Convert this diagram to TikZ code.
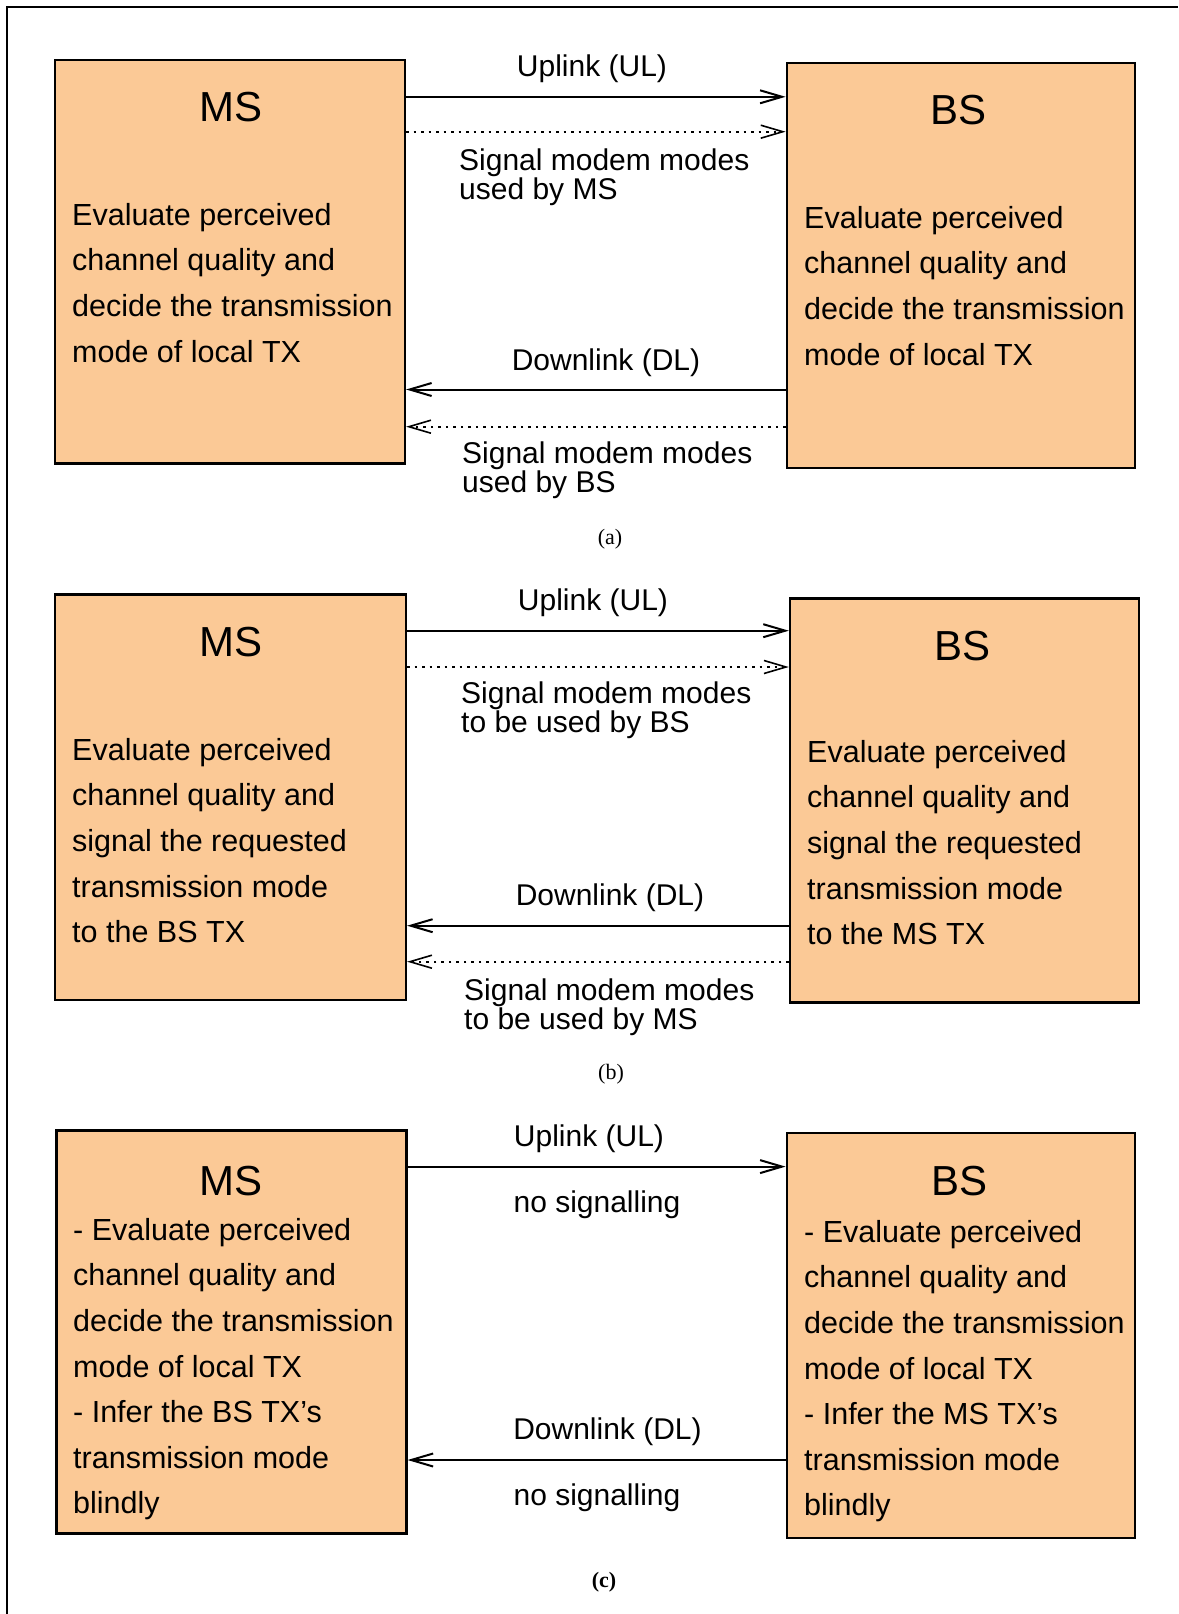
\documentclass[tikz,border=0pt]{standalone}
\usepackage{fontspec}
\setmainfont{Liberation Sans}
\newfontfamily\capfont{Liberation Serif}
\usetikzlibrary{arrows.meta}
\definecolor{peach}{RGB}{251,201,150}
\begin{document}
\begin{tikzpicture}[x=1pt,y=-1pt,
  box/.style={draw=black, line width=2.6pt, fill=peach, anchor=north west, inner sep=0pt},
  ttl/.style={font=\fontsize{42}{46}\selectfont, inner sep=0pt},
  body/.style={font=\fontsize{30.5}{45.6}\selectfont, align=left, anchor=north west, inner sep=0pt},
  lbl/.style={font=\fontsize{30}{34}\selectfont, inner sep=0pt},
  sig/.style={font=\fontsize{30}{27.5}\selectfont, align=left, anchor=west, inner sep=0pt},
  captxt/.style={font=\capfont\fontsize{22}{25}\selectfont, inner sep=0pt},
  link/.style={line width=2pt, -{Straight Barb[length=22pt,width=13pt,line width=2pt]}},
  siglink/.style={line width=1.6pt, dash pattern=on 2.5pt off 5pt,
    -{Straight Barb[length=22pt,width=13pt,line width=1.6pt]}}]
\useasboundingbox (0,0) rectangle (1178,1614);

% outer frame (top and left edges)
\draw[line width=2.4pt] (7,1614) -- (7,7) -- (1178,7);

% ---------------- (a) ----------------
\node[box, minimum width=350pt, minimum height=403.6pt] (msa) at (53.5,58.7) {};
\node[box, minimum width=348pt, minimum height=404.7pt] (bsa) at (785.6,61.8) {};
\node[ttl] (msa-t) at (230.6,107) {MS};
\node[ttl] (bsa-t) at (958.6,110) {BS};
\node[body] (msa-b) at (72,203) {Evaluate perceived\\channel quality and\\decide the transmission\\mode of local TX};
\node[body] (bsa-b) at (804,206) {Evaluate perceived\\channel quality and\\decide the transmission\\mode of local TX};

\coordinate (ula) at (0,96.8);
\coordinate (sula) at (0,131.7);
\coordinate (dla) at (0,389.5);
\coordinate (sdla) at (0,426.7);
\draw[link] (msa.east |- ula) -- (bsa.west |- ula);
\draw[siglink] (msa.east |- sula) -- (bsa.west |- sula);
\draw[link] (bsa.west |- dla) -- (msa.east |- dla);
\draw[siglink] (bsa.west |- sdla) -- (msa.east |- sdla);
\node[lbl] (ula-l) at (592,69) {Uplink (UL)};
\node[sig] (sula-l) at (459,177) {Signal modem modes\\used by MS};
\node[lbl] (dla-l) at (606,363) {Downlink (DL)};
\node[sig] (sdla-l) at (462,470.5) {Signal modem modes\\used by BS};
\node[captxt] (capa) at (610,539) {(a)};

% ---------------- (b) ----------------
\node[box, minimum width=351pt, minimum height=405.8pt] (msb) at (53.5,593) {};
\node[box, minimum width=349pt, minimum height=403.7pt] (bsb) at (788.8,597.2) {};
\node[ttl] (msb-t) at (230.6,642.5) {MS};
\node[ttl] (bsb-t) at (962.8,645.6) {BS};
\node[body] (msb-b) at (72,738) {Evaluate perceived\\channel quality and\\signal the requested\\transmission mode\\to the BS TX};
\node[body] (bsb-b) at (807,740) {Evaluate perceived\\channel quality and\\signal the requested\\transmission mode\\to the MS TX};

\coordinate (ulb) at (0,630.7);
\coordinate (sulb) at (0,667);
\coordinate (dlb) at (0,925.7);
\coordinate (sdlb) at (0,961.7);
\draw[link] (msb.east |- ulb) -- (bsb.west |- ulb);
\draw[siglink] (msb.east |- sulb) -- (bsb.west |- sulb);
\draw[link] (bsb.west |- dlb) -- (msb.east |- dlb);
\draw[siglink] (bsb.west |- sdlb) -- (msb.east |- sdlb);
\node[lbl] (ulb-l) at (593,603) {Uplink (UL)};
\node[sig] (sulb-l) at (461,710) {Signal modem modes\\to be used by BS};
\node[lbl] (dlb-l) at (610,898) {Downlink (DL)};
\node[sig] (sdlb-l) at (464,1007) {Signal modem modes\\to be used by MS};
\node[captxt] (capb) at (611,1074) {(b)};

% ---------------- (c) ----------------
\node[box, minimum width=350pt, minimum height=403pt] (msc) at (55,1129) {};
\node[box, minimum width=348pt, minimum height=405pt] (bsc) at (785.6,1131.6) {};
\node[ttl] (msc-t) at (231,1181) {MS};
\node[ttl] (bsc-t) at (959.7,1181) {BS};
\node[body] (msc-b) at (73,1218) {- Evaluate perceived\\channel quality and\\decide the transmission\\mode of local TX\\- Infer the BS TX's\\transmission mode\\blindly};
\node[body] (bsc-b) at (804,1220) {- Evaluate perceived\\channel quality and\\decide the transmission\\mode of local TX\\- Infer the MS TX's\\transmission mode\\blindly};

\coordinate (ulc) at (0,1166.6);
\coordinate (dlc) at (0,1460);
\draw[link] (msc.east |- ulc) -- (bsc.west |- ulc);
\draw[link] (bsc.west |- dlc) -- (msc.east |- dlc);
\node[lbl] (ulc-l) at (589,1139) {Uplink (UL)};
\node[lbl] (ulc-n) at (597,1205) {no signalling};
\node[lbl] (dlc-l) at (607.5,1432) {Downlink (DL)};
\node[lbl] (dlc-n) at (597,1498) {no signalling};
\node[captxt] (capc) at (604,1582) {\bfseries (c)};
\end{tikzpicture}
\end{document}
